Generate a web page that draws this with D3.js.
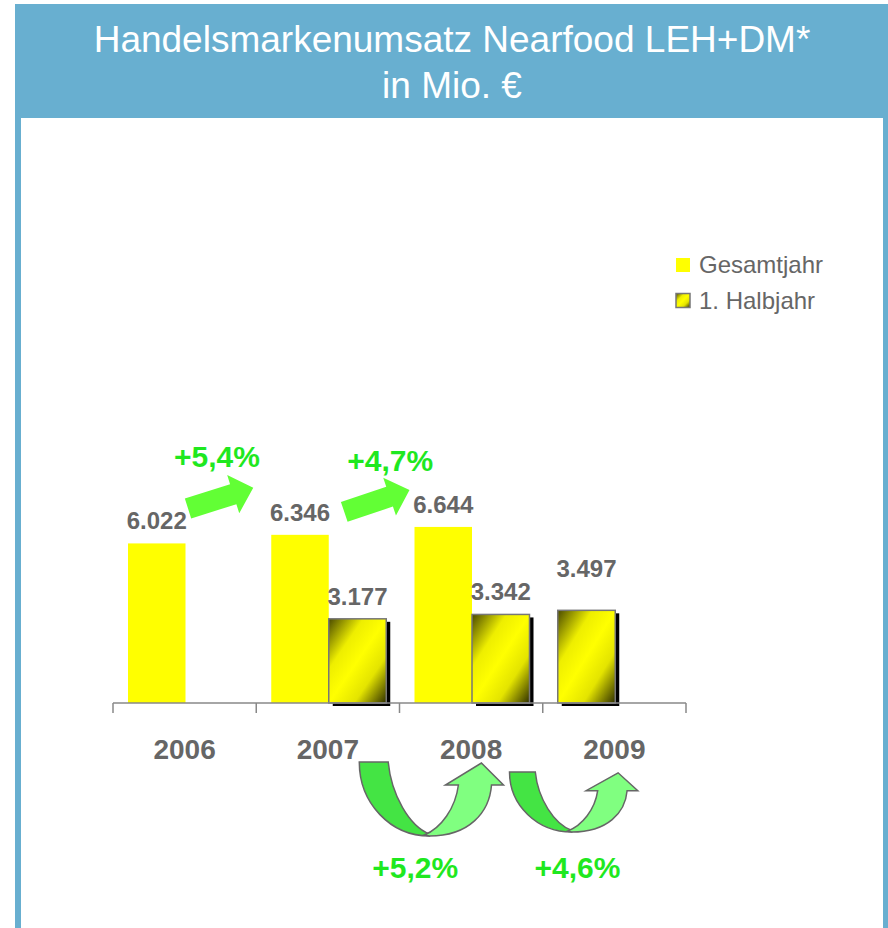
<!DOCTYPE html>
<html>
<head>
<meta charset="utf-8">
<title>Handelsmarkenumsatz Nearfood</title>
<script src="https://cdn.jsdelivr.net/npm/d3@7"></script>
<style>
  body { margin: 0; background: #ffffff; }
  svg { display: block; }
</style>
</head>
<body>
<script>
// chart data
var years = ["2006", "2007", "2008", "2009"];
var seriesNames = ["Gesamtjahr", "1. Halbjahr"];
var gesamtjahr = [6022, 6346, 6644, null];
var halbjahr = [null, 3177, 3342, 3497];
var valueLabels = ["6.022", "6.346", "6.644", "3.177", "3.342", "3.497"];
var growthYear = ["+5,4%", "+4,7%"];
var growthHalf = ["+5,2%", "+4,6%"];
var titleLines = ["Handelsmarkenumsatz Nearfood LEH+DM*", "in Mio. €"];

var width = 888, height = 928;
var blue = "#68afd0";
var grey = "#666666";
var green = "#1fe81f";

var svg = d3.select("body").append("svg")
  .attr("width", width)
  .attr("height", height);

// gradient for the half year bars
var defs = svg.append("defs");
var grad = defs.append("linearGradient")
  .attr("id", "halfGrad")
  .attr("x1", "0").attr("y1", "0")
  .attr("x2", "1").attr("y2", "1");
grad.append("stop").attr("offset", "0%").attr("stop-color", "#4a4a00");
grad.append("stop").attr("offset", "30%").attr("stop-color", "#eeee00");
grad.append("stop").attr("offset", "50%").attr("stop-color", "#ffff00");
grad.append("stop").attr("offset", "72%").attr("stop-color", "#e4e400");
grad.append("stop").attr("offset", "100%").attr("stop-color", "#2e2e00");

// frame and title banner
svg.append("rect")
  .attr("x", 15).attr("y", 4)
  .attr("width", width - 15).attr("height", height - 4)
  .attr("fill", blue);
svg.append("rect")
  .attr("x", 21).attr("y", 118)
  .attr("width", 862).attr("height", height - 118)
  .attr("fill", "#ffffff");

svg.selectAll(".title")
  .data(titleLines)
  .enter()
  .append("text")
  .attr("class", "title")
  .attr("x", 452)
  .attr("y", function(d, i) { return 52 + i * 46; })
  .attr("text-anchor", "middle")
  .style("font-family", "Liberation Sans, Arial, sans-serif")
  .style("font-size", "37px")
  .style("fill", "#ffffff")
  .text(function(d) { return d; });

// scales
var x = d3.scaleBand()
  .domain(years)
  .range([113, 686]);
var x1 = d3.scaleBand()
  .domain(seriesNames)
  .range([15, 130]);
var y = d3.scaleLinear()
  .domain([0, 10000])
  .range([703, 438]);

// build the bar list
var bars = [];
years.forEach(function(yr, i) {
  if (gesamtjahr[i] != null) {
    bars.push({year: yr, series: seriesNames[0], slot: seriesNames[0], value: gesamtjahr[i]});
  }
});
years.forEach(function(yr, i) {
  if (halbjahr[i] != null) {
    // no full year value -> the half year bar takes the first slot
    var slot = gesamtjahr[i] == null ? seriesNames[0] : seriesNames[1];
    bars.push({year: yr, series: seriesNames[1], slot: slot, value: halbjahr[i]});
  }
});
bars.forEach(function(d, i) { d.label = valueLabels[i]; });

function barX(d) { return x(d.year) + x1(d.slot); }

// shadows for the half year bars
svg.selectAll(".shadow")
  .data(bars.filter(function(d) { return d.series == seriesNames[1]; }))
  .enter()
  .append("rect")
  .attr("class", "shadow")
  .attr("x", function(d) { return barX(d) + 4; })
  .attr("y", function(d) { return y(d.value) + 3; })
  .attr("width", x1.bandwidth())
  .attr("height", function(d) { return y(0) - y(d.value); })
  .attr("fill", "#000000");

// bars
svg.selectAll(".bar")
  .data(bars)
  .enter()
  .append("rect")
  .attr("class", "bar")
  .attr("x", barX)
  .attr("y", function(d) { return y(d.value); })
  .attr("width", x1.bandwidth())
  .attr("height", function(d) { return y(0) - y(d.value); })
  .attr("fill", function(d) { return d.series == seriesNames[0] ? "#ffff00" : "url(#halfGrad)"; })
  .attr("stroke", function(d) { return d.series == seriesNames[0] ? "none" : "#777777"; })
  .attr("stroke-width", 1.5);

// axis line with ticks on the category borders
var axisY = y(0);
svg.append("line")
  .attr("x1", x.range()[0]).attr("x2", x.range()[1])
  .attr("y1", axisY).attr("y2", axisY)
  .attr("stroke", "#888888")
  .attr("stroke-width", 1.5);
svg.selectAll(".tick")
  .data(years.map(function(d) { return x(d); }).concat([x.range()[1]]))
  .enter()
  .append("line")
  .attr("class", "tick")
  .attr("x1", function(d) { return d; }).attr("x2", function(d) { return d; })
  .attr("y1", axisY).attr("y2", axisY + 10)
  .attr("stroke", "#888888")
  .attr("stroke-width", 1.5);

// value labels
svg.selectAll(".value")
  .data(bars)
  .enter()
  .append("text")
  .attr("class", "value")
  .attr("x", function(d) { return barX(d) + x1.bandwidth() / 2; })
  .attr("y", function(d) { return y(d.value) - (d.year == "2009" ? 33 : 14); })
  .attr("text-anchor", "middle")
  .style("font-family", "Liberation Sans, Arial, sans-serif")
  .style("font-weight", "bold")
  .style("font-size", "24px")
  .style("fill", grey)
  .text(function(d) { return d.label; });

// year labels
svg.selectAll(".year")
  .data(years)
  .enter()
  .append("text")
  .attr("class", "year")
  .attr("x", function(d) { return x(d) + x.bandwidth() / 2; })
  .attr("y", 759)
  .attr("text-anchor", "middle")
  .style("font-family", "Liberation Sans, Arial, sans-serif")
  .style("font-weight", "bold")
  .style("font-size", "28px")
  .style("fill", grey)
  .text(function(d) { return d; });

// legend
var legend = svg.selectAll(".legend")
  .data(seriesNames)
  .enter()
  .append("g")
  .attr("class", "legend")
  .attr("transform", function(d, i) { return "translate(676," + (258 + i * 35.5) + ")"; });
legend.append("rect")
  .attr("width", 14).attr("height", 14)
  .attr("fill", function(d, i) { return i == 0 ? "#ffff00" : "url(#halfGrad)"; })
  .attr("stroke", function(d, i) { return i == 0 ? "none" : "#777777"; })
  .attr("stroke-width", 1.5);
legend.append("text")
  .attr("x", 23)
  .attr("y", 15)
  .style("font-family", "Liberation Sans, Arial, sans-serif")
  .style("font-size", "24px")
  .style("fill", grey)
  .text(function(d) { return d; });

// straight growth arrows between the full year bars
function straightArrow(x0, y0, x2, y2) {
  var len = Math.sqrt((x2 - x0) * (x2 - x0) + (y2 - y0) * (y2 - y0));
  var ang = Math.atan2(y2 - y0, x2 - x0) * 180 / Math.PI;
  var head = 21, shaft = 10.5, wing = 20;
  var pts = [[0, -shaft], [len - head, -shaft], [len - head, -wing], [len, 0],
             [len - head, wing], [len - head, shaft], [0, shaft]];
  svg.append("polygon")
    .attr("points", pts.map(function(p) { return p.join(","); }).join(" "))
    .attr("transform", "translate(" + x0 + "," + y0 + ") rotate(" + ang + ")")
    .attr("fill", "#62ff35");
}
var full = bars.filter(function(d) { return d.series == seriesNames[0]; });
straightArrow(x(full[0].year) + 75, y(full[0].value) - 35, x(full[1].year) - 3, y(full[1].value) - 47);
straightArrow(x(full[1].year) + 88, y(full[1].value) - 23, x(full[2].year) + 10, y(full[2].value) - 37);

svg.selectAll(".growthYear")
  .data(growthYear)
  .enter()
  .append("text")
  .attr("class", "growthYear")
  .attr("x", function(d, i) { return x(years[i]) + 104 + i * 30; })
  .attr("y", function(d, i) { return 467 + i * 4; })
  .attr("text-anchor", "middle")
  .style("font-family", "Liberation Sans, Arial, sans-serif")
  .style("font-weight", "bold")
  .style("font-size", "30px")
  .style("fill", green)
  .text(function(d) { return d; });

// curved arrows for the half year growth
function curvedArrow(x0, x2, yTop, yBot) {
  var w = x2 - x0, h = yBot - yTop;
  function p(u, v) { return (x0 + u * w).toFixed(1) + "," + (yTop + v * h).toFixed(1); }
  var dark = "M" + p(0, 0) + " L" + p(0.201, 0) +
    " C" + p(0.222, 0.446) + " " + p(0.347, 0.865) + " " + p(0.486, 0.973) +
    " L" + p(0.486, 1) +
    " C" + p(0.215, 1) + " " + p(0, 0.554) + " " + p(0, 0) + " Z";
  var light = "M" + p(0.451, 0.986) +
    " C" + p(0.569, 0.892) + " " + p(0.667, 0.622) + " " + p(0.6875, 0.311) +
    " L" + p(0.597, 0.311) + " L" + p(0.847, 0.0135) + " L" + p(1, 0.311) + " L" + p(0.917, 0.311) +
    " C" + p(0.903, 0.676) + " " + p(0.764, 1) + " " + p(0.486, 1) + " Z";
  svg.append("path")
    .attr("d", dark)
    .attr("fill", "#44e444")
    .attr("stroke", "#666666")
    .attr("stroke-width", 1.5);
  svg.append("path")
    .attr("d", light)
    .attr("fill", "#80ff80")
    .attr("stroke", "#666666")
    .attr("stroke-width", 1.5);
}
curvedArrow(x("2007") + 103, x("2008") + 104, 762, 836);
curvedArrow(x("2008") + 110, x("2009") + 95, 772, 832);

svg.selectAll(".growthHalf")
  .data(growthHalf)
  .enter()
  .append("text")
  .attr("class", "growthHalf")
  .attr("x", function(d, i) { return x(years[i + 1]) + 159 + i * 19; })
  .attr("y", 878)
  .attr("text-anchor", "middle")
  .style("font-family", "Liberation Sans, Arial, sans-serif")
  .style("font-weight", "bold")
  .style("font-size", "30px")
  .style("fill", green)
  .text(function(d) { return d; });
</script>
</body>
</html>
